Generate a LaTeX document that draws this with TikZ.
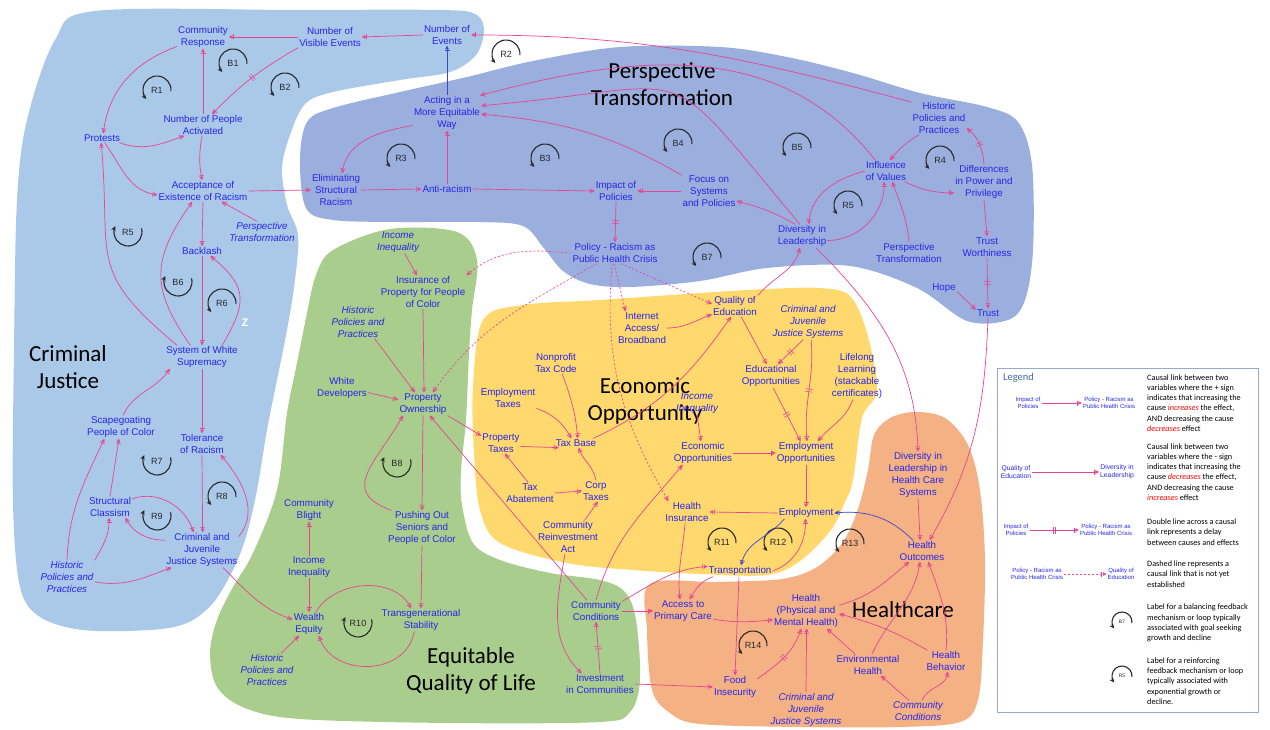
\documentclass[tikz,border=0pt]{standalone}
\usepackage{fontspec}
\setmainfont{Liberation Sans}
\newfontfamily\calfont{Carlito}
\usetikzlibrary{arrows.meta,calc,decorations.markings}

\definecolor{cjblue}{RGB}{170,200,232}
\definecolor{ptblue}{RGB}{154,175,221}
\definecolor{eqgreen}{RGB}{169,205,140}
\definecolor{ecyellow}{RGB}{255,216,110}
\definecolor{hcorange}{RGB}{244,177,131}
\definecolor{varblue}{RGB}{38,38,232}
\definecolor{linkc}{RGB}{232,68,148}
\definecolor{linkblue}{RGB}{60,70,210}
\definecolor{loopc}{RGB}{40,40,40}
\definecolor{legframe}{RGB}{150,170,205}
\definecolor{legtitle}{RGB}{70,105,170}

% loop signs: label in the middle, arrow over the top or under the bottom
\newcommand{\fbtop}[4][14pt]{%
  \node[looplbl] (#2) at #3 {#4};
  \draw[loopline] (#2.center) ++(-5:#1) arc[start angle=-5, end angle=220, radius=#1];}
\newcommand{\fbbot}[4][14pt]{%
  \node[looplbl] (#2) at #3 {#4};
  \draw[loopline] (#2.center) ++(15:#1) arc[start angle=15, end angle=-205, radius=#1];}

\begin{document}
\begin{tikzpicture}[x=1pt, y=-1pt,
    var/.style={text=varblue, font=\fontsize{9.8}{11.8}\selectfont, align=center, inner sep=1pt},
    ivar/.style={var, font=\fontsize{9.8}{11.8}\selectfont\itshape},
    area/.style={font=\calfont\fontsize{23}{27}\selectfont, align=center, inner sep=0pt},
    looplbl/.style={font=\fontsize{9}{9}\selectfont, text=loopc, inner sep=0pt},
    loopline/.style={draw=loopc, line width=1.1pt, -{Stealth[length=5pt,width=4.5pt]}},
    lnk/.style={draw=linkc, line width=0.7pt, -{Bar[width=5pt,sep=0.8pt]Triangle[length=3.5pt,width=3.5pt]}},
    blnk/.style={lnk, draw=linkblue},
    dsh/.style={lnk, dash pattern=on 2pt off 2pt},
    dly/.style={lnk, postaction={decorate}, decoration={markings,
        mark=at position #1 with {\draw[-, draw=linkc, line width=0.6pt] (-1.3pt,-3.5pt) -- (-1.3pt,3.5pt) (1.3pt,-3.5pt) -- (1.3pt,3.5pt);}}},
    dly/.default=0.5,
    tinyvar/.style={var, font=\fontsize{6}{6.8}\selectfont},
    legtext/.style={font=\calfont\fontsize{8.2}{10.2}\selectfont, align=left, anchor=west, inner sep=0pt}
  ]
  \useasboundingbox (0,0) rectangle (1270,730);

  % areas
  \fill[cjblue] plot[smooth cycle, tension=0.55] coordinates {(95,11) (300,10) (440,10) (475,14) (484,30)
    (476,55) (450,72) (400,80) (333,92) (305,104) (290,135) (282,168) (287,205) (298,235) (295,280)
    (287,330) (277,380) (267,430) (257,490) (246,537) (233,570) (213,603) (187,623) (150,630) (83,630)
    (40,617) (20,587) (13,503) (14,350) (17,200) (27,120) (55,40)};
  \fill[ptblue] plot[smooth cycle, tension=0.55] coordinates {(300,160) (307,122) (333,108) (400,92)
    (467,77) (533,61) (620,47) (720,47) (787,57) (853,73) (920,93) (987,107) (1018,122) (1032,165)
    (1033,250) (1025,300) (1008,320) (967,321) (917,288) (850,266) (767,268) (700,281) (630,287)
    (590,284) (563,271) (543,247) (523,226) (480,222) (400,222) (333,220) (306,208)};
  \fill[eqgreen] plot[smooth cycle, tension=0.55] coordinates {(333,250) (390,229) (457,232) (477,260)
    (472,310) (469,353) (466,420) (461,470) (462,505) (473,543) (500,560) (550,573) (600,580) (625,592)
    (636,620) (640,680) (630,712) (600,722) (450,723) (300,719) (245,708) (217,687) (210,653) (217,620)
    (233,587) (253,553) (277,490) (287,413) (297,363) (307,313) (316,275)};
  \fill[ecyellow] plot[smooth cycle, tension=0.55] coordinates {(483,320) (523,305) (600,300) (700,293)
    (767,289) (820,288) (850,296) (867,333) (877,390) (862,418) (853,480) (845,502) (831,530) (800,561)
    (767,575) (700,574) (633,570) (567,563) (500,543) (480,510) (474,453) (473,387)};
  \fill[hcorange] plot[smooth cycle, tension=0.55] coordinates {(650,584) (717,582) (782,579) (817,567)
    (843,542) (858,509) (868,470) (874,435) (890,418) (915,412) (945,418) (968,445) (980,490) (985,560)
    (983,640) (978,700) (960,722) (900,727) (800,727) (700,724) (670,713) (652,690) (647,630)};

  % area titles
  \node[area] (lblcj) at (68,367) {Criminal\\Justice};
  \node[area] (lblpt) at (662,84) {Perspective\\Transformation};
  \node[area] (lblec) at (645,401) {Economic\\Opportunity};
  \node[area] (lbleq) at (471,671) {Equitable\\Quality of Life};
  \node[area] (lblhc) at (903,610) {Healthcare};
  \node[text=white, font=\bfseries\fontsize{11}{11}\selectfont, inner sep=0pt] (zee) at (245,323) {Z};

  % Criminal Justice variables
  \node[var] (comresp) at (203,37) {Community\\Response};
  \node[var] (visev) at (330,37) {Number of\\Visible Events};
  \node[var] (numev) at (447,35) {Number of\\Events};
  \node[var] (peopleact) at (203,125) {Number of People\\Activated};
  \node[var] (protests) at (102,138) {Protests};
  \node[var] (accept) at (203,191) {Acceptance of\\Existence of Racism};
  \node[ivar] (ptcj) at (262,232) {Perspective\\Transformation};
  \node[var] (backlash) at (202,251) {Backlash};
  \node[var] (sws) at (202,357) {System of White\\Supremacy};
  \node[var] (scape) at (121,427) {Scapegoating\\People of Color};
  \node[var] (tol) at (202,444) {Tolerance\\of Racism};
  \node[var] (struct) at (110,507) {Structural\\Classism};
  \node[var] (cjj) at (202,550) {Criminal and\\Juvenile\\Justice Systems};
  \node[ivar] (histcj) at (67,577) {Historic\\Policies and\\Practices};

  % Perspective Transformation variables
  \node[var] (acting) at (447,113) {Acting in a\\More Equitable\\Way};
  \node[var] (elim) at (336,190) {Eliminating\\Structural\\Racism};
  \node[var] (anti) at (447,189) {Anti-racism};
  \node[var] (impact) at (616,191) {Impact of\\Policies};
  \node[var] (focus) at (709,191) {Focus on\\Systems\\and Policies};
  \node[var] (policy) at (615,253) {Policy - Racism as\\Public Health Crisis};
  \node[var] (diversity) at (802,236) {Diversity in\\Leadership};
  \node[var] (influence) at (886,171) {Influence\\of Values};
  \node[var] (histpt) at (939,118) {Historic\\Policies and\\Practices};
  \node[var] (diffpow) at (984,182) {Differences\\in Power and\\Privilege};
  \node[var] (ptpt) at (909,253) {Perspective\\Transformation};
  \node[var] (trustw) at (987,247) {Trust\\Worthiness};
  \node[var] (hope) at (944,288) {Hope};
  \node[var] (trust) at (988,313) {Trust};

  % Economic Opportunity variables
  \node[var] (internet) at (642,328) {Internet\\Access/\\Broadband};
  \node[var] (quality) at (735,306) {Quality of\\Education};
  \node[ivar] (cjjec) at (808,322) {Criminal and\\Juvenile\\Justice Systems};
  \node[var] (eduopp) at (771,376) {Educational\\Opportunities};
  \node[var] (lifelong) at (857,376) {Lifelong\\Learning\\(stackable\\certificates)};
  \node[var] (nonprofit) at (556,363) {Nonprofit\\Tax Code};
  \node[var] (emptax) at (508,398) {Employment\\Taxes};
  \node[var] (proptax) at (501,443) {Property\\Taxes};
  \node[var] (taxbase) at (576,443) {Tax Base};
  \node[ivar] (incec) at (697,403) {Income\\Inequality};
  \node[var] (econopp) at (703,453) {Economic\\Opportunities};
  \node[var] (empopp) at (806,453) {Employment\\Opportunities};
  \node[var] (taxabate) at (530,493) {Tax\\Abatement};
  \node[var] (corptax) at (596,491) {Corp\\Taxes};
  \node[var] (reinvest) at (568,537) {Community\\Reinvestment\\Act};
  \node[var] (healthins) at (687,512) {Health\\Insurance};
  \node[var] (employ) at (806,513) {Employment};
  \node[var] (transport) at (740,571) {Transportation};

  % Equitable Quality of Life variables
  \node[ivar] (inceq) at (398,242) {Income\\Inequality};
  \node[var] (insure) at (423,292) {Insurance of\\Property for People\\of Color};
  \node[ivar] (histeq) at (358,322) {Historic\\Policies and\\Practices};
  \node[var] (whitedev) at (342,388) {White\\Developers};
  \node[var] (propown) at (423,404) {Property\\Ownership};
  \node[var] (pushout) at (422,528) {Pushing Out\\Seniors and\\People of Color};
  \node[var] (blight) at (309,510) {Community\\Blight};
  \node[var] (incwe) at (309,567) {Income\\Inequality};
  \node[var] (wealth) at (309,624) {Wealth\\Equity};
  \node[var] (transgen) at (421,620) {Transgenerational\\Stability};
  \node[ivar] (histwe) at (267,670) {Historic\\Policies and\\Practices};
  \node[var] (comcond) at (596,611) {Community\\Conditions};
  \node[var] (invest) at (600,684) {Investment\\in Communities};

  % Healthcare variables
  \node[var] (divhc) at (918,475) {Diversity in\\Leadership in\\Health Care\\Systems};
  \node[var] (outcomes) at (922,551) {Health\\Outcomes};
  \node[var] (access) at (683,611) {Access to\\Primary Care};
  \node[var] (health) at (806,611) {Health\\(Physical and\\Mental Health)};
  \node[var] (environ) at (868,665) {Environmental\\Health};
  \node[var] (behavior) at (946,661) {Health\\Behavior};
  \node[ivar] (comhc) at (918,711) {Community\\Conditions};
  \node[var] (food) at (735,687) {Food\\Insecurity};
  \node[ivar] (cjjhc) at (806,710) {Criminal and\\Juvenile\\Justice Systems};

  % loops
  \fbtop{lpRone}{(157,90)}{R1}
  \fbtop{lpBone}{(233,63)}{B1}
  \fbtop{lpBtwo}{(285,87)}{B2}
  \fbbot{lpRfivecj}{(128,232)}{R5}
  \fbbot{lpBsix}{(178,282)}{B6}
  \fbtop{lpRsix}{(222,303)}{R6}
  \fbbot{lpRseven}{(157,461)}{R7}
  \fbtop{lpReight}{(222,496)}{R8}
  \fbbot{lpRnine}{(157,516)}{R9}
  \fbtop{lpRtwo}{(506,54)}{R2}
  \fbtop{lpRthree}{(401,158)}{R3}
  \fbtop{lpBthree}{(545,158)}{B3}
  \fbtop{lpBfour}{(678,143)}{B4}
  \fbtop{lpBfive}{(797,147)}{B5}
  \fbtop{lpRfive}{(848,205)}{R5}
  \fbtop{lpRfour}{(940,160)}{R4}
  \fbtop{lpBseven}{(707,257)}{B7}
  \fbbot{lpBeight}{(397,463)}{B8}
  \fbbot{lpRten}{(358,623)}{R10}
  \fbtop{lpReleven}{(722,542)}{R11}
  \fbtop{lpRtwelve}{(778,542)}{R12}
  \fbtop{lpRthirteen}{(850,543)}{R13}
  \fbtop{lpRfourteen}{(753,645)}{R14}

  % Criminal Justice links
  \draw[lnk] (numev.west) -- (visev.east);
  \draw[lnk] (visev.west) -- (comresp.east);
  \draw[dly] (visev.south west) to[bend right=8] (peopleact.50);
  \draw[lnk] (peopleact.north) -- (comresp.south);
  \draw[lnk] (comresp.200) to[out=200,in=82] (protests.75);
  \draw[lnk] (protests.-15) to[out=-20,in=200] (peopleact.-150);
  \draw[lnk] (peopleact.-95) to[bend right=10] (accept.95);
  \draw[lnk] (protests.-60) to[out=-55,in=170] (accept.-175);
  \draw[lnk] (sws.155) to[out=140,in=-85,looseness=1.4] (protests.-100);
  \draw[lnk] (sws.135) to[out=125,in=-125,looseness=1.25] (accept.-135);
  \draw[lnk] (ptcj.115) -- (accept.-30);
  \draw[lnk] (accept.south) -- (backlash.north);
  \draw[lnk] (backlash.south) -- (sws.north);
  \draw[lnk] (sws.30) to[out=60,in=-40,looseness=1.4] (backlash.-30);
  \draw[lnk] (accept.east) -- (elim.west);
  \draw[lnk] (sws.south) -- (tol.north);
  \draw[lnk] (scape.80) to[out=65,in=-125] (sws.-160);
  \draw[lnk] (histcj.north) to[out=88,in=-115] (scape.-145);
  \draw[lnk] (struct.north) -- (scape.-100);
  \draw[lnk] (histcj.north east) to[out=60,in=-90] (struct.-95);
  \draw[lnk] (histcj.-10) to[out=-10,in=-160] (cjj.-150);
  \draw[lnk] (struct.20) to[out=20,in=110] (cjj.115);
  \draw[lnk] (cjj.165) to[out=180,in=-60] (struct.-35);
  \draw[lnk] (tol.south) -- (cjj.88);
  \draw[lnk] (cjj.20) to[out=50,in=-50] (tol.-30);
  \draw[lnk] (cjj.-40) to[out=-45,in=160] (wealth.165);
  \draw[blnk] (acting.north) -- (numev.south);

  % Perspective Transformation links
  \draw[lnk] (histpt.150) to[out=165,in=0] (numev.east);
  \draw[lnk] (influence.135) to[out=128,in=15] (acting.28);
  \draw[lnk] (diversity.100) to[out=130,in=5,looseness=1.7] (acting.12);
  \draw[lnk] (focus.150) to[out=150,in=-5] (acting.-2);
  \draw[lnk] (acting.200) to[out=190,in=80] (elim.70);
  \draw[lnk] (elim.east) -- (anti.west);
  \draw[lnk] (anti.north) -- (acting.south);
  \draw[lnk] (anti.east) -- (impact.west);
  \draw[lnk] (focus.west) -- (impact.east);
  \draw[lnk] (diversity.120) to[out=150,in=-15] (focus.-20);
  \draw[dly] (impact.south) -- (policy.north);
  \draw[lnk] (influence.west) to[out=195,in=85] (diversity.60);
  \draw[lnk] (diversity.-10) to[out=0,in=-90] (influence.-100);
  \draw[lnk] (ptpt.north) to[out=95,in=-70] (influence.-60);
  \draw[lnk] (histpt.-140) to[bend right=10] (influence.70);
  \draw[lnk] (influence.-30) to[out=-25,in=180] (diffpow.200);
  \draw[dly] (diffpow.north) to[out=95,in=-40] (histpt.-20);
  \draw[lnk] (diffpow.south) -- (trustw.north);
  \draw[dly] (trustw.south) -- (trust.north);
  \draw[lnk] (hope.-15) -- (trust.165);
  \draw[lnk] (trust.south) to[out=-92,in=60] (outcomes.55);
  \draw[lnk] (diversity.-40) to[out=-45,in=92] (divhc.north);
  \draw[lnk] (quality.north east) to[out=50,in=-105] (diversity.-100);

  % policy links not yet established
  \draw[dsh] (policy.west) to[out=175,in=40] (insure.north east);
  \draw[dsh] (policy.-150) to[out=-150,in=55] (propown.50);
  \draw[dsh] (policy.-95) -- (internet.135);
  \draw[dsh] (policy.-60) -- (quality.175);
  \draw[dsh] (policy.-105) to[out=-95,in=120] (healthins.150);

  % Economic Opportunity links
  \draw[lnk] (internet.east) to[out=0,in=200] (quality.-160);
  \draw[lnk] (quality.-60) -- (eduopp.110);
  \draw[dly] (cjjec.-105) -- (eduopp.60);
  \draw[dly] (cjjec.-80) to[out=-85,in=95] (empopp.85);
  \draw[dly] (eduopp.-80) -- (empopp.115);
  \draw[lnk] (lifelong.-100) to[out=-110,in=50] (empopp.45);
  \draw[lnk] (econopp.east) -- (empopp.west);
  \draw[lnk] (incec.south) -- (econopp.100);
  \draw[lnk] (taxbase.15) to[out=25,in=-125] (quality.-110);
  \draw[lnk] (nonprofit.-60) to[out=-70,in=95] (taxbase.70);
  \draw[lnk] (emptax.-20) to[out=-20,in=120] (taxbase.135);
  \draw[lnk] (proptax.-10) -- (taxbase.-165);
  \draw[lnk] (propown.-25) -- (proptax.160);
  \draw[lnk] (taxabate.100) -- (proptax.-70);
  \draw[lnk] (taxabate.east) -- (corptax.west);
  \draw[lnk] (reinvest.45) -- (corptax.-80);
  \draw[lnk] (corptax.north) to[out=100,in=-70] (taxbase.-60);
  \draw[lnk] (reinvest.-100) to[out=-100,in=135] (invest.150);
  \draw[lnk] (comcond.north) to[out=75,in=-130] (econopp.-150);
  \draw[lnk] (comcond.20) to[out=30,in=185] (transport.172);
  \draw[lnk] (comcond.east) -- (access.west);
  \draw[dly] (invest.north) -- (comcond.south);
  \draw[lnk] (invest.east) -- (food.west);
  \draw[lnk] (comcond.130) -- (propown.-60);
  \draw[lnk] (employ.west) -- (healthins.east);
  \draw[lnk] (empopp.south) -- (employ.north);
  \draw[blnk] (employ.-165) to[out=-130,in=75] (transport.80);
  \draw[lnk] (transport.east) to[out=20,in=-90] (employ.-95);
  \draw[blnk] (outcomes.130) to[out=135,in=5] (employ.east);
  \draw[lnk] (healthins.-100) to[out=-95,in=95] (access.105);
  \draw[lnk] (transport.-168) to[out=-160,in=60] (access.60);
  \draw[lnk] (transport.-100) -- (food.north);

  % Healthcare links
  \draw[lnk] (access.-15) to[out=-10,in=185] (health.-165);
  \draw[dly] (food.20) to[out=35,in=-110] (health.-105);
  \draw[lnk] (cjjhc.north) -- (health.-88);
  \draw[lnk] (environ.140) -- (health.-40);
  \draw[lnk] (behavior.150) to[out=150,in=-15] (health.-5);
  \draw[lnk] (health.10) to[out=15,in=-140] (outcomes.-140);
  \draw[lnk] (environ.70) to[out=65,in=-100] (outcomes.-100);
  \draw[lnk] (behavior.north) to[out=85,in=-70] (outcomes.-60);
  \draw[lnk] (comhc.130) -- (environ.-40);
  \draw[lnk] (comhc.70) to[out=65,in=-100] (behavior.-80);
  \draw[lnk] (divhc.south) -- (outcomes.100);

  % Equitable Quality of Life links
  \draw[lnk] (inceq.-60) -- (insure.110);
  \draw[lnk] (insure.south) -- (propown.85);
  \draw[lnk] (histeq.-45) -- (propown.125);
  \draw[lnk] (whitedev.-10) -- (propown.170);
  \draw[lnk] (propown.south) -- (pushout.north);
  \draw[lnk] (pushout.150) to[out=160,in=-120,looseness=1.5] (propown.-150);
  \draw[lnk] (pushout.south) -- (transgen.north);
  \draw[lnk] (wealth.60) to[out=60,in=120] (transgen.130);
  \draw[lnk] (transgen.-120) to[out=-100,in=-70,looseness=1.2] (wealth.-50);
  \draw[lnk] (incwe.north) -- (blight.south);
  \draw[lnk] (incwe.south) -- (wealth.north);
  \draw[lnk] (histwe.50) -- (wealth.-130);

  % legend
  \draw[draw=legframe, line width=1pt] (997,368) rectangle (1258,712);
  \node[font=\calfont\fontsize{10.5}{12}\selectfont, text=legtitle, anchor=west, inner sep=0pt] (legtitle) at (1003,378) {Legend};
  \node[tinyvar] (lgimpact) at (1028,403) {Impact of\\Policies};
  \node[tinyvar] (lgpolicy) at (1109,403) {Policy - Racism as\\Public Health Crisis};
  \draw[lnk] (lgimpact) -- (lgpolicy);
  \node[legtext] (lgtxtone) at (1147,403) {Causal link between two\\variables where the + sign\\indicates that increasing the\\cause \textcolor{red}{\itshape increases} the effect,\\AND decreasing the cause\\\textcolor{red}{\itshape decreases} effect};
  \node[tinyvar, font=\fontsize{6.8}{7.6}\selectfont] (lgquality) at (1016,472) {Quality of\\Education};
  \node[tinyvar, font=\fontsize{6.8}{7.6}\selectfont] (lgdiv) at (1117,472) {Diversity in\\Leadership};
  \draw[lnk] (lgquality) -- (lgdiv);
  \node[legtext] (lgtxttwo) at (1147,472) {Causal link between two\\variables where the - sign\\indicates that increasing the\\cause \textcolor{red}{\itshape decreases} the effect,\\AND decreasing the cause\\\textcolor{red}{\itshape increases} effect};
  \node[tinyvar] (lgimpactd) at (1016,530) {Impact of\\Policies};
  \node[tinyvar] (lgpolicyd) at (1106,530) {Policy - Racism as\\Public Health Crisis};
  \draw[dly] (lgimpactd) -- (lgpolicyd);
  \node[legtext] (lgtxtthree) at (1147,532) {Double line across a causal\\link represents a delay\\between causes and effects};
  \node[tinyvar] (lgpolicyn) at (1037,574) {Policy - Racism as\\Public Health Crisis};
  \node[tinyvar] (lgqualityn) at (1121,574) {Quality of\\Education};
  \draw[dsh] (lgpolicyn) -- (lgqualityn);
  \node[legtext] (lgtxtfour) at (1147,574) {Dashed line represents a\\causal link that is not yet\\established};
  \fbtop[10pt]{lgBseven}{(1122,622)}{\fontsize{5}{5}\selectfont B7}
  \node[legtext] (lgtxtfive) at (1147,623) {Label for a balancing feedback\\mechanism or loop typically\\associated with goal seeking\\growth and decline};
  \fbtop[10pt]{lgRfive}{(1122,676)}{\fontsize{5}{5}\selectfont R5}
  \node[legtext] (lgtxtsix) at (1147,681) {Label for a reinforcing\\feedback mechanism or loop\\typically associated with\\exponential growth or\\decline.};
\end{tikzpicture}
\end{document}
